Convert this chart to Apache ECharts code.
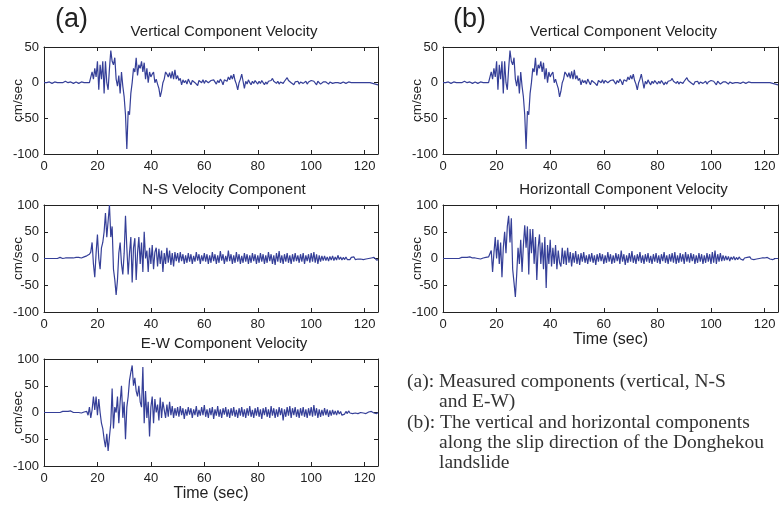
<!DOCTYPE html>
<html>
<head>
<meta charset="utf-8">
<script src="https://cdn.jsdelivr.net/npm/echarts@6/dist/echarts.min.js"></script>
<style>
  html, body { margin: 0; padding: 0; background: #fff; }
  #chart { width: 783px; height: 507px; }
</style>
</head>
<body>
<div id="chart"></div>
<script>
// sample spacing of every trace (sec)
const dt = 0.5;
const timeMax = 125;

// vertical component, cm/sec, one value every 0.5 s from 0 to 125 s
const verticalVel = [
  0,1,0,0,1,0,-1,0,1,0,
  0,1,0,-1,0,1,2,1,0,1,
  1,0,-1,0,1,0,-1,0,1,0,
  0,1,0,-1,0,1,15,5,20,8,
  30,-10,25,5,30,-15,30,0,-10,20,
  45,30,25,35,5,-5,10,-15,15,-5,
  -20,-45,-93,-40,-45,-15,0,20,15,35,
  10,25,20,30,15,28,5,20,0,15,
  8,12,15,0,5,-2,-8,-20,-12,0,
  5,15,12,8,14,6,16,5,18,5,
  10,3,6,-3,4,0,3,-2,5,1,
  -3,3,5,0,2,-4,3,1,0,4,
  -1,3,5,0,-2,3,1,4,2,-2,
  3,0,5,2,-3,4,6,2,8,4,
  10,5,12,3,-2,-10,0,5,12,2,
  -8,2,-2,4,0,-3,2,-1,3,1,
  -2,2,-1,3,0,-3,1,-2,2,0,
  3,6,2,4,-1,2,-2,1,3,-1,
  2,4,7,3,5,0,2,-3,1,0,
  2,-2,1,3,-1,0,2,-2,1,0,
  3,1,2,0,-3,2,1,-2,0,1,
  -1,1,0,-2,1,0,-1,1,0,-1,
  0,1,-1,0,1,0,-1,0,1,0,
  0,1,0,-1,0,1,0,-1,0,1,
  0,1,0,-1,0,1,-1,0,-2,-1,
  -3
];

// N-S component
const nsVel = [
  0,1,0,-1,0,1,0,1,0,-1,
  0,1,2,1,0,2,1,0,1,2,
  1,2,1,0,2,1,2,3,1,2,
  3,2,5,3,8,12,30,-10,-35,10,
  45,0,-20,20,30,50,85,40,70,100,
  40,60,-20,-40,-68,-40,10,30,-10,-30,
  10,80,20,-30,10,40,-45,20,38,-40,
  10,40,-10,30,-25,50,0,15,-25,20,
  -10,25,-20,12,20,-15,18,-10,15,-25,
  10,-10,20,-8,15,-12,10,-15,12,-5,
  10,-8,12,-5,8,-10,6,-8,10,-6,
  8,-10,5,-6,12,-4,8,-10,6,-5,
  10,-6,8,-10,6,-8,12,-5,8,-10,
  6,-8,14,-4,8,-10,5,-6,15,-5,
  8,-10,6,-8,12,-6,8,-10,5,-8,
  10,-6,8,-10,6,-8,10,-5,8,-10,
  6,-8,10,-6,8,-10,6,-8,12,-5,
  8,-10,6,-12,10,-6,14,-8,6,-10,
  8,-6,10,-8,6,-10,8,-6,10,-5,
  6,-8,8,-6,10,-10,6,-5,8,-8,
  10,-6,12,-8,8,-10,6,-6,5,-4,
  5,-4,3,-5,4,-3,5,-4,3,-3,
  6,-2,3,-3,2,-2,3,-2,1,-2,
  2,-1,3,-2,1,-1,2,-1,1,-2,
  1,-1,2,0,3,1,-1,2,0,-3,
  -2
];

// E-W component
const ewVel = [
  0,1,0,-1,0,1,0,1,0,-1,
  0,1,0,1,2,1,2,3,2,4,
  3,2,0,1,0,-1,0,1,-1,0,
  1,-2,2,-5,10,-10,5,30,5,30,
  -5,25,0,-20,-30,-50,-65,-40,-72,-45,
  -20,45,-30,10,0,30,-20,20,50,-10,
  20,-50,10,30,60,75,88,50,65,40,
  30,50,20,10,85,-20,40,-10,20,-45,
  10,30,-20,25,0,15,-15,28,-10,20,
  5,-10,15,-8,20,-5,12,-10,8,-6,
  10,-8,12,-5,8,-12,6,-6,10,-4,
  8,-10,6,-5,12,-8,5,-6,10,-5,
  14,-8,6,-10,8,-5,10,-12,6,-6,
  12,-8,6,-10,8,-4,10,-8,6,-10,
  8,-6,10,-8,5,-10,8,-6,10,-8,
  6,-10,8,-6,12,-8,5,-10,8,-6,
  10,-8,6,-12,8,-5,10,-8,6,-10,
  12,-6,8,-10,6,-8,10,-5,8,-15,
  6,-8,10,-6,12,-10,8,-5,10,-8,
  6,-10,8,-6,10,-8,6,-10,8,-6,
  10,-8,14,-6,8,-10,6,-8,5,-6,
  8,-5,6,-8,4,-6,5,-4,3,-5,
  4,-3,2,-5,-4,-3,2,-2,3,-1,
  2,-2,1,-1,2,-2,1,0,2,-1,
  1,-2,0,1,-1,2,0,-1,1,-2,
  0
];

// horizontal component along the slip direction
const horizVel = [
  0,1,0,-1,0,1,0,1,0,-1,
  0,1,0,1,2,1,2,3,2,4,
  3,2,1,0,1,-1,0,1,-1,0,
  1,-1,2,0,3,5,15,-25,10,40,
  0,35,-10,30,-35,20,50,10,60,80,
  30,75,-20,-45,-72,-30,20,-10,35,-25,
  25,62,20,60,-30,55,10,55,-10,40,
  -40,20,45,-10,30,-20,40,-55,25,-10,
  35,-15,20,-10,25,-20,15,-8,-15,20,
  -10,15,-12,20,-8,12,-15,10,-8,14,
  -10,8,-12,10,-6,12,-8,6,-10,8,
  -6,10,-8,6,-12,8,-6,10,-5,8,
  -10,6,-8,12,-6,8,-10,6,-8,10,
  -5,8,-10,15,-6,8,-12,6,-8,10,
  -6,14,-8,6,-10,8,-5,12,-8,6,
  -10,8,-6,10,-8,5,-10,8,-6,10,
  -8,6,-10,8,-5,12,-8,6,-10,8,
  -6,10,-8,12,-10,6,-8,10,-6,8,
  -10,12,-6,8,-8,10,-5,8,-10,6,
  -8,10,-6,8,-10,6,-8,10,-6,8,
  -10,12,-8,15,-10,8,-6,10,-5,6,
  -4,5,-3,4,-5,3,-2,4,-3,2,
  -2,3,-1,2,-3,1,-2,2,-1,3,
  -1,2,-2,1,-1,2,0,-1,1,-2,
  1,-1,2,0,-1,1,-2,1,0,-1,
  0
];

const panelTitles = [
  "Vertical Component Velocity",
  "N-S Velocity Component",
  "E-W Component Velocity",
  "Vertical Component Velocity",
  "Horizontall Component Velocity"
];
const panelSeries = [verticalVel, nsVel, ewVel, verticalVel, horizVel];
const yRanges = [[-100, 50], [-100, 100], [-100, 100], [-100, 50], [-100, 100]];
const timeLabelPanels = [2, 4];

const noteLines = [
  "(a): Measured components (vertical, N-S",
  "and E-W)",
  "(b): The vertical and horizontal components",
  "along the slip direction of the Donghekou",
  "landslide"
];

const ink = "#222";
const traceColor = "#353f98";
const sans = "'Liberation Sans', Arial, sans-serif";
const serif = "'Liberation Serif', 'Times New Roman', serif";

const boxes = [
  { left: 44, top: 47, width: 334, height: 107 },
  { left: 44, top: 205, width: 334, height: 107 },
  { left: 44, top: 359, width: 334, height: 107 },
  { left: 443, top: 47, width: 335, height: 107 },
  { left: 443, top: 205, width: 335, height: 107 }
];

const chart = echarts.init(document.getElementById("chart"), null, { renderer: "canvas" });

const grid = [];
const xAxis = [];
const yAxis = [];
const series = [];
const title = [];

boxes.forEach((b, i) => {
  grid.push({ ...b, show: false, containLabel: false });

  const frameLine = { show: true, onZero: false, lineStyle: { color: ink, width: 1 } };
  const tick = { show: true, inside: true, length: 4, lineStyle: { color: ink } };
  const withTime = timeLabelPanels.includes(i);

  xAxis.push({
    gridIndex: i, type: "value", position: "bottom",
    min: 0, max: timeMax, interval: 20,
    axisLine: frameLine, axisTick: tick, splitLine: { show: false },
    axisLabel: { color: ink, fontSize: 13, fontFamily: sans, margin: 6, showMaxLabel: false },
    name: withTime ? "Time (sec)" : "",
    nameLocation: "middle", nameGap: 20, nameMoveOverlap: false,
    nameTextStyle: { color: ink, fontSize: 16, fontFamily: sans }
  });
  xAxis.push({
    gridIndex: i, type: "value", position: "top",
    min: 0, max: timeMax, interval: 20,
    axisLine: frameLine, axisTick: tick, splitLine: { show: false },
    axisLabel: { show: false }
  });

  const [lo, hi] = yRanges[i];
  yAxis.push({
    gridIndex: i, type: "value", position: "left",
    min: lo, max: hi, interval: 50,
    axisLine: frameLine, axisTick: tick, splitLine: { show: false },
    axisLabel: { color: ink, fontSize: 13, fontFamily: sans, margin: 5 },
    name: "cm/sec", nameLocation: "middle", nameGap: 19, nameMoveOverlap: false,
    nameTextStyle: { color: ink, fontSize: 13.5, fontFamily: sans }
  });
  yAxis.push({
    gridIndex: i, type: "value", position: "right",
    min: lo, max: hi, interval: 50,
    axisLine: frameLine, axisTick: tick, splitLine: { show: false },
    axisLabel: { show: false }
  });

  series.push({
    type: "line",
    xAxisIndex: 2 * i,
    yAxisIndex: 2 * i,
    data: panelSeries[i].map((v, k) => [k * dt, v]),
    showSymbol: false,
    symbol: "none",
    animation: false,
    lineStyle: { color: traceColor, width: 1.2 }
  });

  title.push({
    text: panelTitles[i],
    left: b.left + b.width / 2 + 13,
    top: b.top - 23,
    textAlign: "center",
    padding: 0,
    textStyle: { color: ink, fontSize: 15, fontWeight: "normal", fontFamily: sans }
  });
});

title.push({
  text: "(a)", left: 55, top: 6, padding: 0,
  textStyle: { color: ink, fontSize: 27, fontWeight: "normal", fontFamily: sans }
});
title.push({
  text: "(b)", left: 453, top: 6, padding: 0,
  textStyle: { color: ink, fontSize: 27, fontWeight: "normal", fontFamily: sans }
});

const noteTops = [372, 392, 413, 433, 453];
noteLines.forEach((line, k) => {
  const indented = !line.startsWith("(");
  title.push({
    text: line,
    left: indented ? 439 : 407,
    top: noteTops[k],
    padding: 0,
    textStyle: { color: "#333", fontSize: 19.5, fontWeight: "normal", fontFamily: serif }
  });
});

chart.setOption({
  backgroundColor: "#fff",
  animation: false,
  title,
  grid,
  xAxis,
  yAxis,
  series
});
</script>
</body>
</html>
